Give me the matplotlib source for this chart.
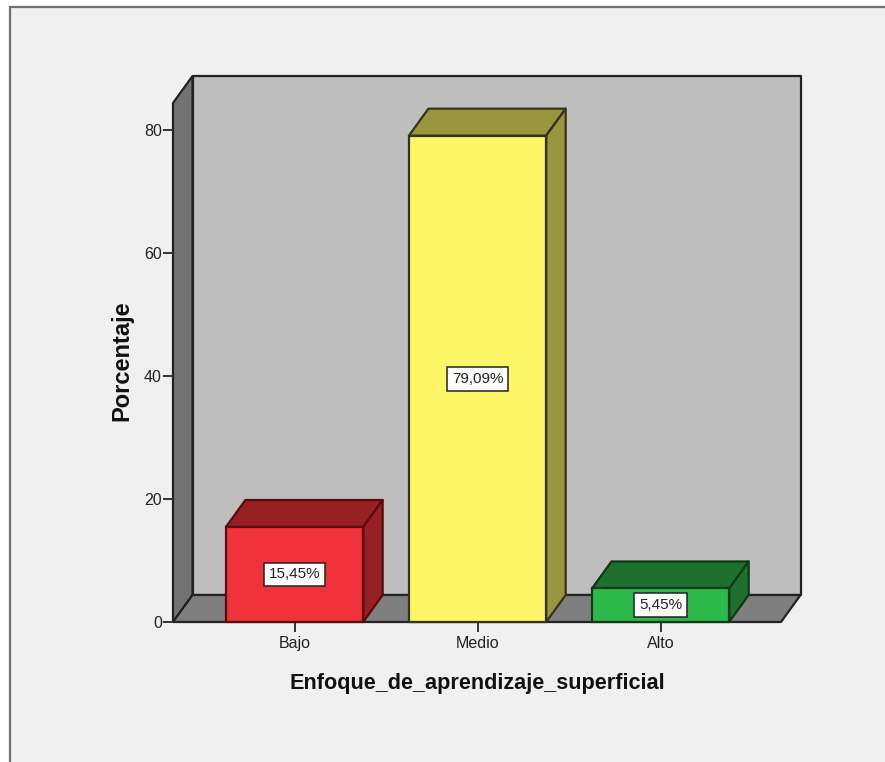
import matplotlib
matplotlib.use("Agg")
import matplotlib.pyplot as plt
from matplotlib import font_manager as fm
from matplotlib.patches import Polygon, Rectangle

categories = ["Bajo", "Medio", "Alto"]
values = [15.45, 79.09, 5.45]
labels = ["15,45%", "79,09%", "5,45%"]
yticks = [0, 20, 40, 60, 80]
xlabel = "Enfoque_de_aprendizaje_superficial"
ylabel = "Porcentaje"
front = ["#f0323a", "#fdf768", "#2db84a"]
shade = ["#962024", "#9a9640", "#1e702e"]
bar_edge = ["#5a0c0c", "#33331a", "#0e3a16"]

W, H = 885, 762
names = {f.name for f in fm.fontManager.ttflist}
narrow = "Liberation Sans Narrow" if "Liberation Sans Narrow" in names else "Liberation Sans"
plt.rcParams["font.family"] = "Liberation Sans"

fig = plt.figure(figsize=(W / 100, H / 100), dpi=100, facecolor="white")
fig.add_artist(Rectangle((9.5 / W, -0.01), 1, 1 - 6.5 / H + 0.01, transform=fig.transFigure,
                         facecolor="#f0f0f0", edgecolor="#707070", linewidth=1.6, zorder=-5))

L, R, T, B = 173, 781, 103, 622
ax = fig.add_axes([L / W, 1 - B / H, (R - L) / W, (B - T) / H])
ax.patch.set_visible(False)
for s in ax.spines.values():
    s.set_visible(False)

xmin, xmax = -0.664, 2.658
ymin, ymax = 0, 84.4
ax.set_xlim(xmin, xmax)
ax.set_ylim(ymin, ymax)
dx = 19.5 / 183
dy = 27 / 6.15
bw = 0.75
edge = dict(edgecolor="#222222", linewidth=1.6, joinstyle="round", clip_on=False)

ax.add_patch(Polygon([(xmin + dx, dy), (xmax + dx, dy), (xmax + dx, ymax + dy), (xmin + dx, ymax + dy)],
                     facecolor="#bebebe", zorder=1, **edge))
ax.add_patch(Polygon([(xmin, 0), (xmin + dx, dy), (xmin + dx, ymax + dy), (xmin, ymax)],
                     facecolor="#737373", zorder=1, **edge))
ax.add_patch(Polygon([(xmin, 0), (xmax, 0), (xmax + dx, dy), (xmin + dx, dy)],
                     facecolor="#7f7f7f", zorder=1, **edge))

for i, v in enumerate(values):
    a, b = i - bw / 2, i + bw / 2
    barc = dict(edgecolor=bar_edge[i], linewidth=1.6, joinstyle="round", clip_on=False)
    ax.add_patch(Polygon([(a, v), (b, v), (b + dx, v + dy), (a + dx, v + dy)],
                         facecolor=shade[i], zorder=2, **barc))
    ax.add_patch(Polygon([(b, 0), (b + dx, dy), (b + dx, v + dy), (b, v)],
                         facecolor=shade[i], zorder=2, **barc))
    ax.bar(i, v, width=bw, color=front[i], zorder=3, clip_on=False,
           edgecolor=bar_edge[i], linewidth=1.6)
    ax.text(i, v / 2, labels[i], ha="center", va="center", fontsize=11, family=narrow,
            color="#222222", zorder=5,
            bbox=dict(boxstyle="square,pad=0.32", facecolor="white", edgecolor="#222222", linewidth=1.1))

ax.set_xticks(range(len(categories)), categories, family=narrow)
ax.set_yticks(yticks, [str(t) for t in yticks], family=narrow)
ax.tick_params(axis="both", length=7, width=1.4, color="#333333", labelsize=11.5, labelcolor="#222222")
ax.tick_params(axis="x", pad=3)
ax.tick_params(axis="y", pad=1)

fig.text(477 / W, 1 - 683 / H, xlabel, ha="center", va="center", fontsize=15.6, fontweight="bold", color="#111111")
fig.text(122 / W, 1 - 361 / H, ylabel, ha="center", va="center", rotation=90, fontsize=17, fontweight="bold", color="#111111")

fig.savefig("out.png", dpi=100, facecolor=fig.get_facecolor())
